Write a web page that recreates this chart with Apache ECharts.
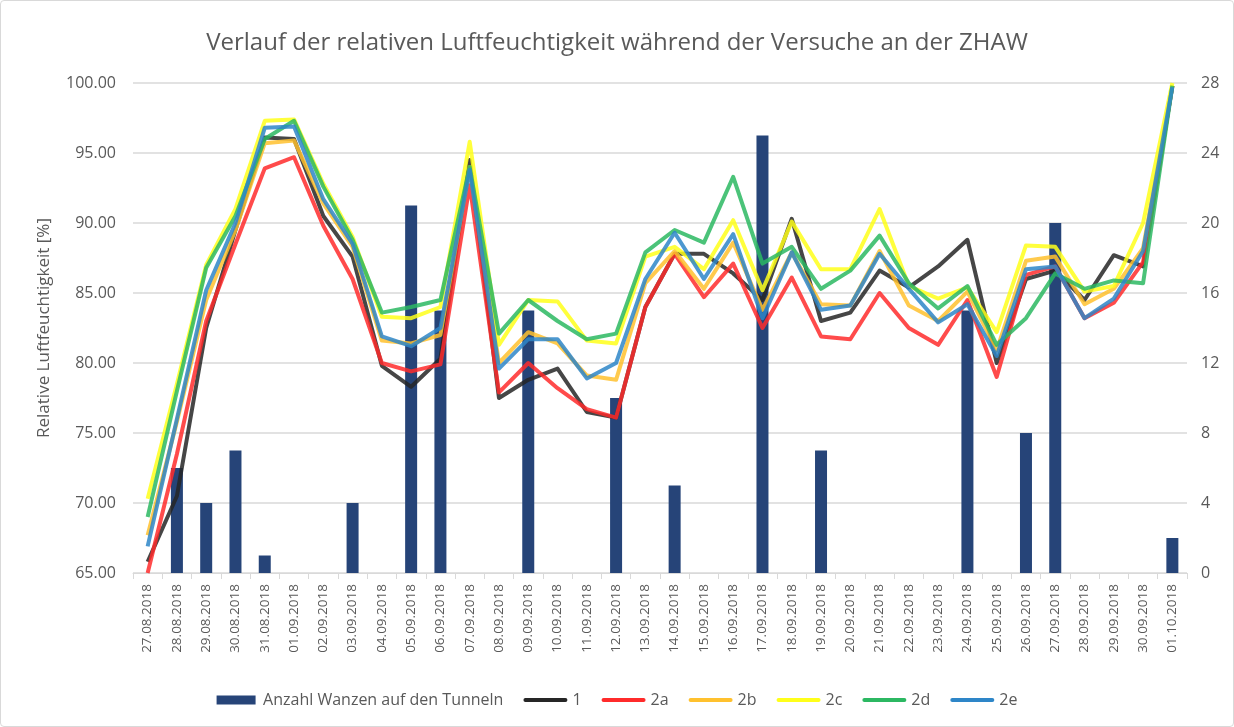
<!DOCTYPE html>
<html>
<head>
<meta charset="utf-8">
<script src="https://cdn.jsdelivr.net/npm/echarts@6/dist/echarts.min.js"></script>
<style>
html, body { margin: 0; padding: 0; background: #fff; }
#main { width: 1232px; height: 725px; border: 1px solid #d9d9d9; border-radius: 4px; }
</style>
</head>
<body>
<div id="main"></div>
<script>
var dates = ['27.08.2018', '28.08.2018', '29.08.2018', '30.08.2018', '31.08.2018', '01.09.2018',
    '02.09.2018', '03.09.2018', '04.09.2018', '05.09.2018', '06.09.2018', '07.09.2018',
    '08.09.2018', '09.09.2018', '10.09.2018', '11.09.2018', '12.09.2018', '13.09.2018',
    '14.09.2018', '15.09.2018', '16.09.2018', '17.09.2018', '18.09.2018', '19.09.2018',
    '20.09.2018', '21.09.2018', '22.09.2018', '23.09.2018', '24.09.2018', '25.09.2018',
    '26.09.2018', '27.09.2018', '28.09.2018', '29.09.2018', '30.09.2018', '01.10.2018'];

// Anzahl Wanzen (rechte Achse)
var wanzen = [0, 6, 4, 7, 1, 0, 0, 4, 0, 21, 15, 0, 0, 15, 0, 0, 10, 0,
    5, 0, 0, 25, 0, 7, 0, 0, 0, 0, 15, 0, 8, 20, 0, 0, 0, 2];

// relative Luftfeuchtigkeit [%]
var t1 = [65.8, 70.5, 82.5, 89.5, 96.1, 96.0, 90.5, 87.6, 79.8, 78.3, 80.3, 94.5,
    77.5, 78.8, 79.6, 76.5, 76.1, 84.0, 87.8, 87.8, 86.4, 84.5, 90.3, 83.0,
    83.6, 86.6, 85.4, 86.9, 88.8, 80.0, 86.0, 86.6, 84.5, 87.7, 86.9, 99.8];
var t2a = [65.0, 73.5, 83.0, 88.5, 93.9, 94.7, 89.8, 86.0, 80.0, 79.4, 79.9, 92.7,
    77.9, 80.0, 78.2, 76.7, 76.1, 84.0, 87.8, 84.7, 87.1, 82.5, 86.1, 81.9,
    81.7, 85.0, 82.5, 81.3, 84.5, 79.0, 86.3, 86.9, 83.2, 84.3, 87.2, 99.8];
var t2b = [67.7, 75.8, 84.5, 89.5, 95.7, 95.9, 91.4, 88.3, 81.6, 81.4, 82.0, 94.0,
    80.0, 82.2, 81.4, 79.1, 78.8, 85.7, 88.0, 85.3, 88.6, 83.8, 87.9, 84.2,
    84.1, 88.0, 84.1, 83.0, 85.1, 80.9, 87.3, 87.6, 84.2, 85.3, 88.2, 99.8];
var t2c = [70.3, 78.5, 87.0, 91.0, 97.3, 97.4, 92.8, 89.0, 83.3, 83.2, 84.0, 95.8,
    81.3, 84.5, 84.4, 81.6, 81.4, 87.6, 88.3, 86.7, 90.2, 85.2, 90.1, 86.7,
    86.7, 91.0, 85.5, 84.6, 85.4, 82.2, 88.4, 88.3, 85.1, 85.5, 90.0, 100.0];
var t2d = [69.0, 78.0, 86.8, 90.5, 96.0, 97.3, 92.6, 88.8, 83.6, 84.0, 84.5, 94.0,
    82.1, 84.5, 83.0, 81.7, 82.1, 87.9, 89.5, 88.6, 93.3, 87.1, 88.3, 85.3,
    86.6, 89.1, 85.7, 83.9, 85.5, 81.3, 83.2, 86.4, 85.3, 85.9, 85.7, 99.8];
var t2e = [66.9, 76.0, 85.2, 90.0, 96.8, 96.9, 91.7, 88.5, 81.9, 81.2, 82.5, 93.8,
    79.6, 81.7, 81.7, 78.9, 80.0, 86.0, 89.3, 86.0, 89.2, 83.2, 87.9, 83.8,
    84.1, 87.8, 85.3, 82.9, 84.2, 80.5, 86.7, 86.9, 83.2, 84.6, 88.0, 99.7];

var grau = '#595959';
var balkenIcon = 'path://M0,0 H39 V9 H0 Z';
var linienIcon = 'path://M2,0 H42 A2,2 0 0 1 42,4 H2 A2,2 0 0 1 2,0 Z';
var myChart = echarts.init(document.getElementById('main'));

function linie(name, data, color) {
    return {
        name: name,
        type: 'line',
        yAxisIndex: 0,
        data: data,
        symbol: 'none',
        lineStyle: { width: 4, color: color, opacity: 0.85, join: 'round' },
        itemStyle: { color: color }
    };
}

myChart.setOption({
    animation: false,
    textStyle: { fontFamily: 'Open Sans, Liberation Sans, sans-serif' },
    title: {
        text: 'Verlauf der relativen Luftfeuchtigkeit während der Versuche an der ZHAW',
        left: 'center',
        top: 25,
        textStyle: { fontSize: 24, fontWeight: 'normal', color: grau }
    },
    legend: {
        bottom: 13,
        left: 'center',
        itemWidth: 44,
        itemHeight: 9,
        itemGap: 20,
        symbolKeepAspect: true,
        textStyle: { fontSize: 16, color: grau },
        data: [
            { name: 'Anzahl Wanzen auf den Tunneln', icon: balkenIcon },
            { name: '1', icon: linienIcon },
            { name: '2a', icon: linienIcon },
            { name: '2b', icon: linienIcon },
            { name: '2c', icon: linienIcon },
            { name: '2d', icon: linienIcon },
            { name: '2e', icon: linienIcon }
        ]
    },
    grid: { left: 132, right: 46, top: 82, bottom: 153 },
    xAxis: {
        type: 'category',
        data: dates,
        axisLine: { lineStyle: { color: '#d9d9d9' } },
        axisTick: { show: true, length: 6, lineStyle: { color: '#d9d9d9' } },
        axisLabel: { rotate: 90, fontSize: 13.5, color: grau, margin: 11, interval: 0 }
    },
    yAxis: [{
        type: 'value',
        min: 65, max: 100, interval: 5,
        name: 'Relative Luftfeuchtigkeit [%]',
        nameLocation: 'middle',
        nameGap: 80,
        nameTextStyle: { fontSize: 17, color: grau },
        axisLabel: { fontSize: 16, color: grau, margin: 17, formatter: function (v) { return v.toFixed(2); } },
        splitLine: { lineStyle: { color: '#d9d9d9', width: 1.5 } }
    }, {
        type: 'value',
        min: 0, max: 28, interval: 4,
        axisLabel: { fontSize: 16, color: grau, margin: 14 },
        splitLine: { show: false }
    }],
    series: [{
        name: 'Anzahl Wanzen auf den Tunneln',
        type: 'bar',
        yAxisIndex: 1,
        data: wanzen,
        barWidth: 12,
        itemStyle: { color: '#264478' }
    },
        linie('1', t1, '#262626'),
        linie('2a', t2a, '#ff2b2b'),
        linie('2b', t2b, '#ffc12e'),
        linie('2c', t2c, '#ffff1a'),
        linie('2d', t2d, '#2cb862'),
        linie('2e', t2e, '#2e86c8')
    ]
});
</script>
</body>
</html>
